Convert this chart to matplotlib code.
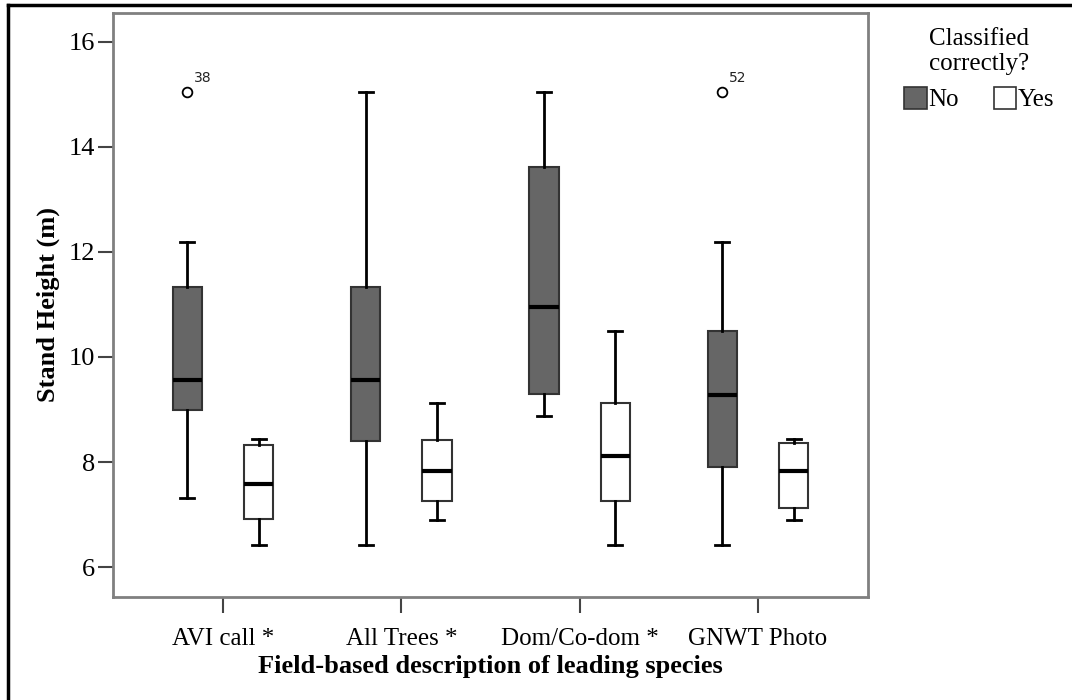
import matplotlib
matplotlib.use('Agg')
import matplotlib.pyplot as plt
from matplotlib.patches import Patch
from matplotlib.lines import Line2D

plt.rcParams['font.family'] = ['Liberation Serif', 'DejaVu Serif']

categories = ['AVI call *', 'All Trees *', 'Dom/Co-dom *', 'GNWT Photo']
groups = ['No', 'Yes']

# five-number summaries: whislo, q1, med, q3, whishi
no_whislo = [7.32, 6.42, 8.87, 6.42]
no_q1 = [9.00, 8.40, 9.29, 7.91]
no_med = [9.57, 9.57, 10.96, 9.28]
no_q3 = [11.34, 11.34, 13.62, 10.50]
no_whishi = [12.19, 15.05, 15.05, 12.19]
no_fliers = [[15.05], [], [], [15.05]]
no_flier_ids = [['38'], [], [], ['52']]

yes_whislo = [6.42, 6.90, 6.42, 6.90]
yes_q1 = [6.91, 7.26, 7.26, 7.12]
yes_med = [7.59, 7.82, 8.11, 7.82]
yes_q3 = [8.32, 8.42, 9.13, 8.37]
yes_whishi = [8.43, 9.12, 10.50, 8.43]

fig = plt.figure(figsize=(10.72, 7.0), dpi=100)
ax = fig.add_axes([113 / 1072, 103 / 700, 755 / 1072, 584 / 700])

def stats(lo, q1, med, q3, hi, fl):
    out = []
    for i in range(len(lo)):
        out.append(dict(whislo=lo[i], q1=q1[i], med=med[i], q3=q3[i],
                        whishi=hi[i], fliers=fl[i]))
    return out

off = 0.2
bw = 0.165
box_common = dict(widths=bw, patch_artist=True, showfliers=True,
                  capwidths=0.08, manage_ticks=False,
                  whiskerprops=dict(color='black', lw=2),
                  capprops=dict(color='black', lw=2),
                  medianprops=dict(color='black', lw=3),
                  flierprops=dict(marker='o', markerfacecolor='white',
                                  markeredgecolor='black', markersize=7,
                                  markeredgewidth=1.3))

xs = list(range(len(categories)))
no_stats = stats(no_whislo, no_q1, no_med, no_q3, no_whishi, no_fliers)
yes_stats = stats(yes_whislo, yes_q1, yes_med, yes_q3, yes_whishi,
                  [[] for _ in categories])

ax.bxp(no_stats, positions=[x - off for x in xs],
       boxprops=dict(facecolor='#666666', edgecolor='#333333', lw=1.5),
       **box_common)
ax.bxp(yes_stats, positions=[x + off for x in xs],
       boxprops=dict(facecolor='white', edgecolor='#333333', lw=1.5),
       **box_common)

# outlier case labels
for i, x in enumerate(xs):
    for v, lab in zip(no_fliers[i], no_flier_ids[i]):
        ax.annotate(lab, (x - off, v), xytext=(5, 7), textcoords='offset points',
                    fontsize=10, family='DejaVu Sans', color='#222222')

ax.set_xlim(-0.617, 3.617)
ax.set_ylim(5.43, 16.55)
ax.set_yticks([6, 8, 10, 12, 14, 16])
ax.set_xticks(xs)
ax.set_xticklabels(categories)
ax.tick_params(axis='both', labelsize=19, colors='#444444', length=11,
               width=1.5, labelcolor='black', pad=2)
ax.tick_params(axis='x', labelsize=18, length=11.5, pad=10.5)
for s in ax.spines.values():
    s.set_color('#808080')
    s.set_linewidth(2)

ax.set_ylabel('Stand Height (m)', fontsize=19, fontweight='bold', labelpad=6)
ax.set_xlabel('Field-based description of leading species', fontsize=19,
              fontweight='bold', labelpad=4)

handles = [Patch(facecolor='#666666', edgecolor='#333333', lw=1.2),
           Patch(facecolor='white', edgecolor='#333333', lw=1.2)]
leg = fig.legend(handles, groups, title='Classified\ncorrectly?', ncol=2,
                 loc='upper center', bbox_to_anchor=(979 / 1072, 0.985),
                 frameon=False, fontsize=18, title_fontsize=18,
                 handlelength=0.9, handleheight=1.0, handletextpad=0.05,
                 columnspacing=1.4, borderpad=0.2, labelspacing=0.45)
leg.get_title().set_multialignment('center')

# outer border (left and top edges visible)
fig.add_artist(Line2D([8 / 1072, 8 / 1072], [0, 695 / 700], color='black',
                      lw=2.5, transform=fig.transFigure))
fig.add_artist(Line2D([8 / 1072, 1], [695 / 700, 695 / 700], color='black',
                      lw=2.5, transform=fig.transFigure))

fig.savefig('out.png', dpi=100)
